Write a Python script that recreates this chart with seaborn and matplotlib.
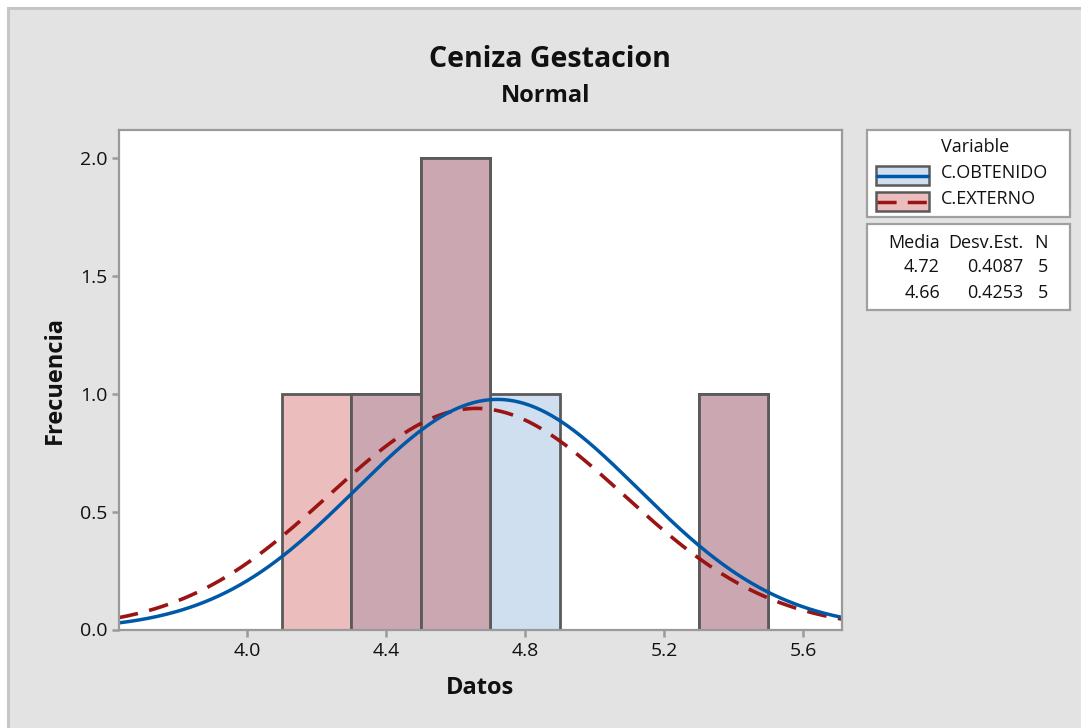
import numpy as np
import pandas as pd
import matplotlib
matplotlib.use("Agg")
import matplotlib.pyplot as plt
from matplotlib.patches import Rectangle
from matplotlib.lines import Line2D
import seaborn as sns

# ---------------- data ----------------
variables = ["C.OBTENIDO", "C.EXTERNO"]
bin_edges = [4.1, 4.3, 4.5, 4.7, 4.9, 5.1, 5.3, 5.5]
obtenido_counts = [0, 1, 2, 1, 0, 0, 1]
externo_counts = [1, 1, 2, 0, 0, 0, 1]
means = [4.72, 4.66]
std_devs = [0.4087, 0.4253]
n_obs = [5, 5]
x_ticks = [4.0, 4.4, 4.8, 5.2, 5.6]
y_ticks = [0.0, 0.5, 1.0, 1.5, 2.0]
title = "Ceniza Gestacion"
subtitle = "Normal"
x_label = "Datos"
y_label = "Frecuencia"

# ---------------- style ----------------
W, H = 1081, 728
sns.set_theme(style="white")
plt.rcParams["font.family"] = ["Open Sans", "DejaVu Sans"]

FILL_BLUE = "#CFDFEF"
FILL_PINK = "#EBBDBD"
FILL_MIX = "#CBA8B1"
EDGE = "#5A5A5A"
LINE_BLUE = "#0058A8"
LINE_RED = "#9A1414"
SPINE = "#9A9A9A"
TXT = "#111111"

fig = plt.figure(figsize=(W / 100, H / 100), dpi=100, facecolor="white")


def fx(px):
    return px / W


def fy(py):
    return 1 - py / H


# outer panel
fig.patches.append(Rectangle((fx(8), fy(H + 20)), fx(W + 20), (H + 12) / H,
                             transform=fig.transFigure, facecolor="#E3E3E3",
                             edgecolor="#C6C6C6", linewidth=2.2, zorder=-5))

ax_l, ax_r, ax_t, ax_b = 118.5, 842, 130, 629.5
ax = fig.add_axes([fx(ax_l), fy(ax_b), fx(ax_r - ax_l), (ax_b - ax_t) / H])
ax.set_facecolor("white")
ax.set_zorder(1)

mids = [(bin_edges[i] + bin_edges[i + 1]) / 2 for i in range(len(bin_edges) - 1)]
overlap = list(np.minimum(obtenido_counts, externo_counts))

common = dict(bins=bin_edges, ax=ax, alpha=1, edgecolor=EDGE, linewidth=2.0)
sns.histplot(x=mids, weights=externo_counts, color=FILL_PINK, **common)
sns.histplot(x=mids, weights=obtenido_counts, color=FILL_BLUE, **common)
sns.histplot(x=mids, weights=overlap, color=FILL_MIX, **common)

xmin, xmax = 3.630, 5.712
xs = np.linspace(xmin, xmax, 400)
bw = bin_edges[1] - bin_edges[0]
curves = []
for m, s, n in zip(means, std_devs, n_obs):
    curves.append(n * bw * np.exp(-0.5 * ((xs - m) / s) ** 2) / (s * np.sqrt(2 * np.pi)))

sns.lineplot(x=xs, y=curves[1], ax=ax, color=LINE_RED, linewidth=2.6)
ax.lines[-1].set_dashes((5.5, 3.2))
sns.lineplot(x=xs, y=curves[0], ax=ax, color=LINE_BLUE, linewidth=2.5)

ax.set_xlim(xmin, xmax)
ax.set_ylim(0, 2.119)
ax.set_xticks(x_ticks)
ax.set_xticklabels([f"{v:.1f}" for v in x_ticks])
ax.set_yticks(y_ticks)
ax.set_yticklabels([f"{v:.1f}" for v in y_ticks])

for side in ["top", "right", "bottom", "left"]:
    ax.spines[side].set_color(SPINE)
    ax.spines[side].set_linewidth(1.6)
    ax.spines[side].set_visible(True)

ax.tick_params(axis="both", which="major", direction="out", length=5, width=1.8,
               color=SPINE, labelsize=14, labelcolor=TXT, bottom=True, left=True)
ax.tick_params(axis="x", pad=4)
ax.tick_params(axis="y", pad=3)

ax.set_xlabel(x_label, fontsize=17, fontweight="bold", color=TXT)
ax.set_ylabel(y_label, fontsize=17, fontweight="bold", color=TXT)
ax.xaxis.set_label_coords((480 - ax_l) / (ax_r - ax_l), (ax_b - 688) / (ax_b - ax_t))
ax.xaxis.label.set_va("center")
ax.yaxis.set_label_coords((55 - ax_l) / (ax_r - ax_l), 0.5)
ax.yaxis.label.set_va("center")

# titles
fig.text(fx(550), fy(67), title, fontsize=20.5, fontweight="bold", ha="center",
         va="baseline", color=TXT)
fig.text(fx(546), fy(101.5), subtitle, fontsize=17, fontweight="bold", ha="center",
         va="baseline", color=TXT)

# legend boxes
def box(x0, y0, x1, y1):
    fig.patches.append(Rectangle((fx(x0), fy(y1)), fx(x1 - x0), (y1 - y0) / H,
                                 transform=fig.transFigure, facecolor="white",
                                 edgecolor="#A0A0A0", linewidth=1.6, zorder=1))

box(867, 130, 1070, 217)
box(867, 224, 1070, 310)

LS = 13
fig.text(fx(975), fy(152.5), "Variable", fontsize=LS, ha="center", va="baseline", color=TXT)
fills = [FILL_BLUE, FILL_PINK]
lcols = [LINE_BLUE, LINE_RED]
row_tops = [166, 192]
baselines = [178.5, 203.5]
for i, var in enumerate(variables):
    t = row_tops[i]
    fig.patches.append(Rectangle((fx(875.5), fy(t + 19)), fx(53.5), 19 / H,
                                 transform=fig.transFigure, facecolor=fills[i],
                                 edgecolor=EDGE, linewidth=1.8, zorder=2))
    ln = Line2D([fx(876.5), fx(928)], [fy(t + 9.5), fy(t + 9.5)], transform=fig.transFigure,
                color=lcols[i], linewidth=2.5, zorder=3)
    if i == 1:
        ln.set_dashes((5.5, 3.2))
    fig.lines.append(ln)
    fig.text(fx(940.5), fy(baselines[i]), var, fontsize=LS, ha="left", va="baseline", color=TXT)

# stats table
col_right = [940, 1023, 1048]
headers = ["Media", "Desv.Est.", "N"]
for c, h in zip(col_right, headers):
    fig.text(fx(c), fy(248.5), h, fontsize=LS, ha="right", va="baseline", color=TXT)
row_base = [272.5, 297.5]
for i in range(len(variables)):
    vals = [f"{means[i]:.2f}", f"{std_devs[i]:.4f}", f"{n_obs[i]}"]
    for c, v in zip(col_right, vals):
        fig.text(fx(c), fy(row_base[i]), v, fontsize=LS, ha="right", va="baseline", color=TXT)

fig.savefig("out.png", dpi=100, facecolor=fig.get_facecolor())
